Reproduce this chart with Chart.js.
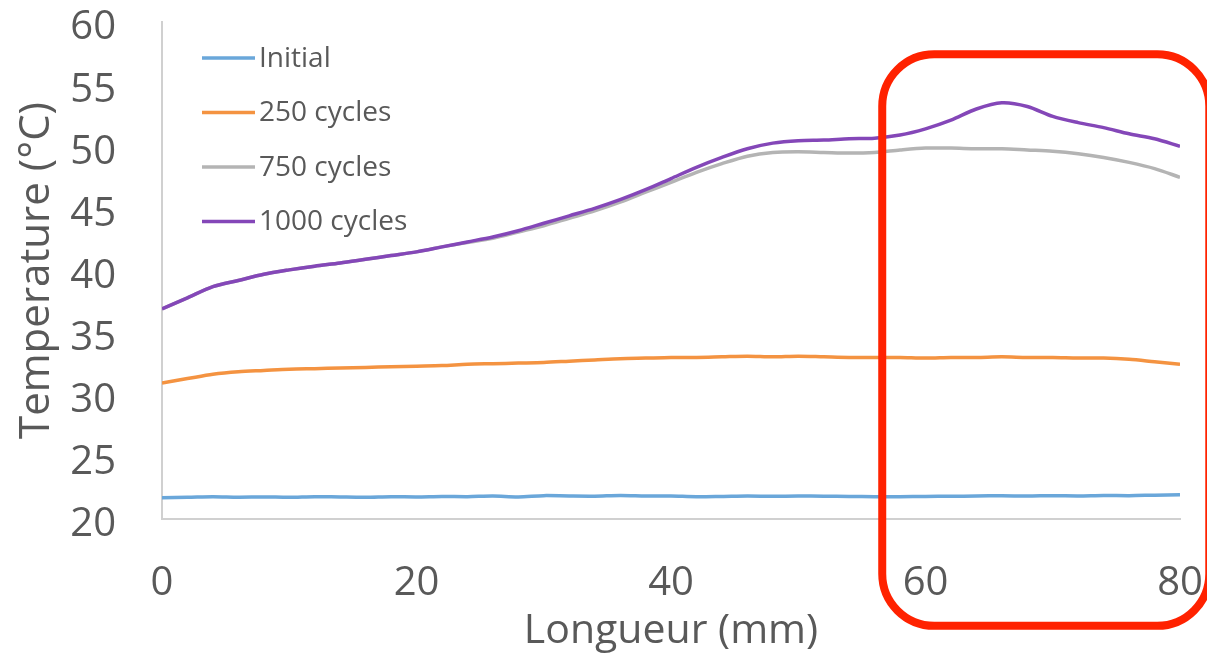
<!DOCTYPE html>
<html>
<head>
<meta charset="utf-8">
<script src="https://cdn.jsdelivr.net/npm/chart.js@4"></script>
<style>
  html, body { margin: 0; padding: 0; background: #fff; }
  #wrap { width: 1207px; height: 654px; position: relative; }
</style>
</head>
<body>
<div id="wrap"><canvas id="chart"></canvas></div>
<script>
// Longueur (mm), relevé tous les 2 mm
const longueur = [0, 2, 4, 6, 8, 10, 12, 14, 16, 18, 20, 22, 24, 26, 28, 30, 32, 34, 36, 38, 40,
  42, 44, 46, 48, 50, 52, 54, 56, 58, 60, 62, 64, 66, 68, 70, 72, 74, 76, 78, 80];

const initial = [21.72, 21.75, 21.8, 21.76, 21.78, 21.75, 21.8, 21.77, 21.75, 21.8, 21.78,
  21.82, 21.8, 21.85, 21.78, 21.88, 21.85, 21.84, 21.9, 21.86, 21.85,
  21.8, 21.82, 21.85, 21.83, 21.85, 21.84, 21.82, 21.8, 21.8, 21.82,
  21.83, 21.85, 21.87, 21.85, 21.88, 21.86, 21.9, 21.88, 21.92, 21.95];

const cycles250 = [30.95, 31.3, 31.65, 31.85, 31.95, 32.05, 32.1, 32.15, 32.2, 32.25, 32.3,
  32.35, 32.45, 32.5, 32.55, 32.6, 32.7, 32.8, 32.9, 32.95, 33.0,
  33.0, 33.05, 33.1, 33.05, 33.1, 33.05, 33.0, 33.0, 33.0, 32.95,
  33.0, 33.0, 33.05, 33.0, 33.0, 32.95, 32.95, 32.85, 32.65, 32.45];

const cycles750 = [36.9, 37.8, 38.7, 39.2, 39.7, 40.05, 40.35, 40.6, 40.9, 41.2, 41.5,
  41.9, 42.25, 42.6, 43.1, 43.6, 44.2, 44.8, 45.5, 46.3, 47.1,
  47.9, 48.6, 49.2, 49.5, 49.55, 49.5, 49.45, 49.5, 49.7, 49.85,
  49.85, 49.8, 49.8, 49.7, 49.6, 49.4, 49.1, 48.7, 48.2, 47.5];

const cycles1000 = [36.9, 37.8, 38.7, 39.2, 39.7, 40.05, 40.35, 40.6, 40.9, 41.2, 41.5,
  41.9, 42.3, 42.7, 43.2, 43.8, 44.4, 45.0, 45.7, 46.5, 47.4,
  48.3, 49.1, 49.8, 50.25, 50.45, 50.5, 50.6, 50.65, 50.9, 51.4,
  52.1, 53.0, 53.5, 53.2, 52.4, 51.9, 51.5, 51.0, 50.6, 50.0];

const seriesNames = ['Initial', '250 cycles', '750 cycles', '1000 cycles'];
const yTicks = [20, 25, 30, 35, 40, 45, 50, 55, 60];
const xTicks = [0, 20, 40, 60, 80];

const textColor = '#595959';
const font = 'Open Sans';

function toPoints(ys) {
  return longueur.map((x, i) => ({ x: x, y: ys[i] }));
}

// order: la dernière série est dessinée par-dessus, comme dans Excel
function serie(label, ys, color, order) {
  return {
    label: label,
    data: toPoints(ys),
    borderColor: color,
    backgroundColor: color,
    borderWidth: 3.5,
    pointRadius: 0,
    tension: 0.3,
    order: order
  };
}

// pas de marge automatique autour des axes
function noPadding(scale) {
  scale.paddingTop = 0;
  scale.paddingBottom = 0;
  scale.paddingLeft = 0;
  scale.paddingRight = 0;
}

// légende dessinée à la main, en haut à gauche de la zone de tracé
const legendPlugin = {
  id: 'legendeExcel',
  afterDatasetsDraw(chart) {
    const ctx = chart.ctx;
    const left = chart.chartArea.left + 40;
    ctx.save();
    ctx.font = '28px "' + font + '"';
    ctx.textBaseline = 'middle';
    ctx.textAlign = 'left';
    chart.data.datasets.forEach((ds, i) => {
      const y = 58 + i * 54.5;
      ctx.strokeStyle = ds.borderColor;
      ctx.lineWidth = 3.5;
      ctx.beginPath();
      ctx.moveTo(left, y);
      ctx.lineTo(left + 53, y);
      ctx.stroke();
      ctx.fillStyle = textColor;
      ctx.fillText(ds.label, left + 57, y + 1);
    });
    ctx.restore();
  }
};

// cadre rouge autour de la zone 57-80 mm
const zone = { x0: 56.6, x1: 82.3, y0: 57.4, y1: 11.4, radius: 52 };
const zonePlugin = {
  id: 'zoneRouge',
  afterDraw(chart) {
    const { ctx, scales: { x, y } } = chart;
    const l = x.getPixelForValue(zone.x0), r = x.getPixelForValue(zone.x1);
    const t = y.getPixelForValue(zone.y0), b = y.getPixelForValue(zone.y1);
    ctx.save();
    ctx.strokeStyle = '#FF2200';
    ctx.lineWidth = 8;
    ctx.beginPath();
    ctx.roundRect(l, t, r - l, b - t, zone.radius);
    ctx.stroke();
    ctx.restore();
  }
};

new Chart(document.getElementById('chart'), {
  type: 'line',
  data: {
    datasets: [
      serie(seriesNames[0], initial, '#6AA7DA', 3),
      serie(seriesNames[1], cycles250, '#F49341', 2),
      serie(seriesNames[2], cycles750, '#B4B4B4', 1),
      serie(seriesNames[3], cycles1000, '#8447B8', 0)
    ]
  },
  options: {
    responsive: true,
    maintainAspectRatio: false,
    animation: false,
    layout: { padding: { top: 22, right: 27, bottom: 0, left: 0 } },
    plugins: {
      legend: { display: false },
      tooltip: { enabled: false }
    },
    scales: {
      x: {
        type: 'linear',
        min: 0,
        max: 80,
        afterFit(scale) { scale.height = 135; noPadding(scale); },
        afterBuildTicks(scale) { scale.ticks = xTicks.map(v => ({ value: v })); },
        grid: { display: false, drawTicks: false },
        border: { display: true, color: '#D0D0D0', width: 2 },
        ticks: { color: textColor, font: { family: font, size: 40 }, padding: 41, maxRotation: 0 },
        title: {
          display: true,
          text: 'Longueur (mm)',
          color: textColor,
          font: { family: font, size: 41 },
          padding: { top: 0, bottom: -2 }
        }
      },
      y: {
        min: 20,
        max: 60,
        afterFit(scale) { scale.width = 162; noPadding(scale); },
        afterBuildTicks(scale) { scale.ticks = yTicks.map(v => ({ value: v })); },
        grid: { display: false, drawTicks: false },
        border: { display: true, color: '#D0D0D0', width: 2 },
        // ligne vide devant : les libellés descendent de 6 px comme dans Excel
        ticks: {
          color: textColor,
          font: { family: font, size: 40, lineHeight: '12px' },
          padding: 46,
          callback: v => ['', String(v)]
        },
        title: {
          display: true,
          text: 'Temperature (°C)',
          color: textColor,
          font: { family: font, size: 42 },
          padding: { top: 12, bottom: 0 }
        }
      }
    }
  },
  plugins: [legendPlugin, zonePlugin]
});
</script>
</body>
</html>
